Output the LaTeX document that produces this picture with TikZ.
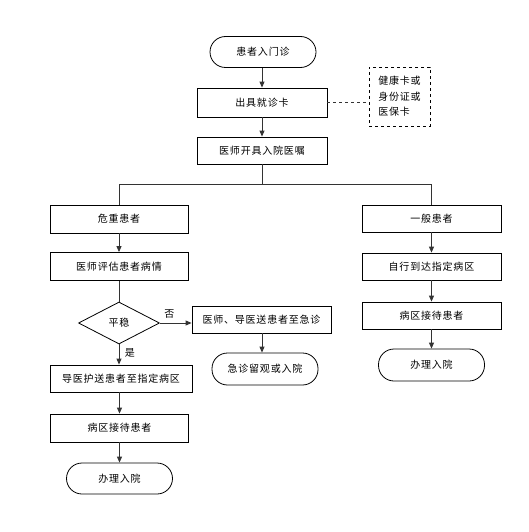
\documentclass[tikz,border=0pt]{standalone}
\usepackage{fontspec}
\setmainfont{Noto Sans CJK SC}[LetterSpace=8]
\usetikzlibrary{shapes.geometric,arrows.meta}
\begin{document}
\begin{tikzpicture}[x=1pt,y=-1pt,
  font=\fontsize{10}{12}\selectfont,
  box/.style={draw=black,line width=0.8pt,minimum height=28pt,minimum width=138pt,inner sep=2pt},
  term/.style={draw=black,line width=0.8pt,rounded corners=15.5pt,minimum height=31pt,minimum width=106pt},
  dec/.style={draw=black,line width=0.8pt,diamond,aspect=2,minimum width=81pt,minimum height=42pt,inner sep=0pt},
  arr/.style={draw=black!80,line width=0.9pt,-{Triangle[length=6pt,width=5pt]}},
  ln/.style={draw=black!80,line width=0.9pt}]
\useasboundingbox (0,0) rectangle (529,532);
\node[term] (start) at (263,52) {患者入门诊};
\node[box,minimum width=130pt,minimum height=29pt] (card) at (262,102.5) {出具就诊卡};
\node[draw=black,line width=0.8pt,dashed,minimum width=61pt,minimum height=59pt,align=left,inner sep=3pt,font=\fontsize{10}{15.5}\selectfont] (note) at (399.5,96.5) {健康卡或\\身份证或\\医保卡};
\node[box,minimum width=130pt,minimum height=27pt] (order) at (262,150.5) {医师开具入院医嘱};
\coordinate (split) at (262,184);
\coordinate (lsplit) at (119,184);
\coordinate (rsplit) at (431,184);
\node[box] (crit) at (119,219) {危重患者};
\node[box] (eval) at (119,266.5) {医师评估患者病情};
\node[dec] (stable) at (119,323) {平稳};
\node[box,minimum width=139pt,minimum height=27pt] (send) at (261.5,319.5) {医师、导医送患者至急诊};
\node[term,minimum height=32pt] (er) at (265,369) {急诊留观或入院};
\node[box,minimum width=142pt,minimum height=27pt] (escort) at (121,378.5) {导医护送患者至指定病区};
\node[box] (recvL) at (119.5,428) {病区接待患者};
\node[term] (admL) at (119.5,478.5) {办理入院};
\node[box,minimum width=139pt,minimum height=27pt] (gen) at (431.5,218.5) {一般患者};
\node[box,minimum width=139pt,minimum height=27pt] (self) at (431.5,266.5) {自行到达指定病区};
\node[box,minimum width=139pt,minimum height=27pt] (recvR) at (431.5,315.5) {病区接待患者};
\node[term,minimum height=32pt] (admR) at (431.5,365) {办理入院};
\draw[arr] (start.south -| card.north) -- (card.north);
\draw[arr] (card) -- (order);
\draw[ln,dashed,line width=0.8pt] (card.east) -- (note.west |- card.east);
\draw[ln] (order.south -| split) -- (split);
\draw[ln] (lsplit) -- (rsplit);
\draw[ln] (lsplit) -- (crit.north);
\draw[ln] (rsplit) -- (gen.north -| rsplit);
\draw[arr] (crit) -- (eval);
\draw[ln] (eval) -- (stable.north);
\draw[arr] (stable.east) -- (send.west |- stable.east) node[pos=0.3,above=1pt] {否};
\draw[arr] (send.south -| 262,0) -- (er.north -| 262,0);
\draw[arr] (stable.south) -- (escort.north -| stable.south) node[pos=0.4,right=2pt] {是};
\draw[arr] (escort.south -| recvL.north) -- (recvL.north);
\draw[arr] (recvL) -- (admL);
\draw[arr] (gen) -- (self);
\draw[arr] (self) -- (recvR);
\draw[arr] (recvR) -- (admR);
\end{tikzpicture}
\end{document}
